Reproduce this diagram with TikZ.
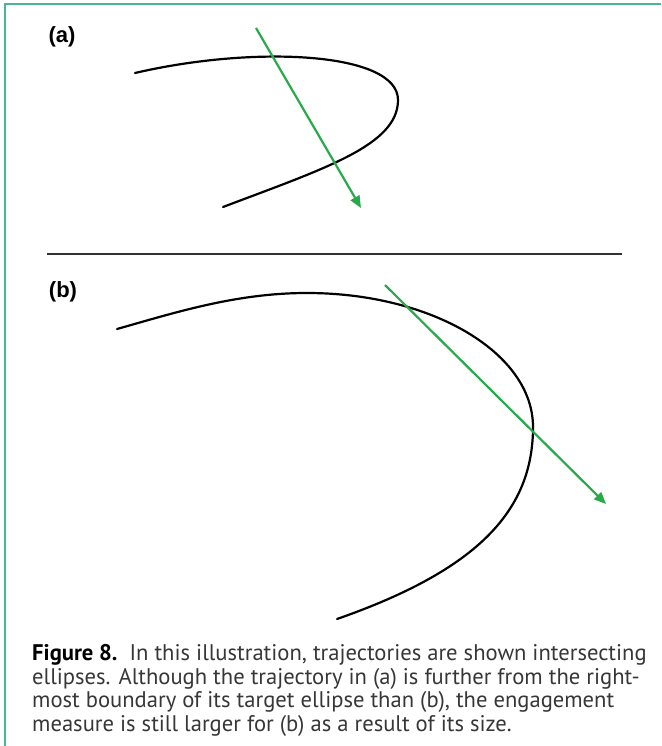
\documentclass[tikz,border=0pt]{standalone}
\usepackage{fontspec}
\setmainfont{PT Sans}
\newfontfamily\labfont{Liberation Sans}
\usetikzlibrary{arrows.meta}
\definecolor{frameteal}{RGB}{72,182,148}
\definecolor{trajgreen}{RGB}{40,170,75}
\definecolor{captext}{RGB}{55,55,55}
\definecolor{sepgrey}{RGB}{50,50,50}
\begin{document}
\begin{tikzpicture}[x=1pt,y=-1pt,
  frame/.style={draw=frameteal,line width=1.8pt},
  ellipsecurve/.style={draw=black,line width=2.2pt,line cap=round},
  traj/.style={draw=trajgreen,line width=2.2pt,-{Triangle[length=12pt,width=10pt]}},
  seprule/.style={draw=sepgrey,line width=2.6pt},
  panellabel/.style={inner sep=0pt,font=\labfont\bfseries\fontsize{22}{24}\selectfont,text=black},
  captionbox/.style={inner sep=0pt,align=left,anchor=base west,text=captext,font=\fontsize{22.6}{23.4}\selectfont}]
\useasboundingbox (0,0) rectangle (661,746);
\fill[white] (0,0) rectangle (661,746);
% frame
\coordinate (fbl) at (4.7,746);
\coordinate (ftl) at (4.7,4);
\coordinate (ftr) at (661,4);
\draw[frame] (fbl) -- (ftl) -- (ftr);
% panel (a)
\node[panellabel] (la) at (62,37) {(a)};
\draw[ellipsecurve] (135,73) .. controls (255,45) and (398,52) .. (398,100)
  .. controls (398,145) and (326,168) .. (223,207);
\coordinate (ga1) at (256,28);
\coordinate (ga2) at (361,208);
\draw[traj] (ga1) -- (ga2);
% separator
\coordinate (s1) at (47,254);
\coordinate (s2) at (622,254);
\draw[seprule] (s1) -- (s2);
% panel (b)
\node[panellabel] (lb) at (63,292) {(b)};
\draw[ellipsecurve] (117,329) .. controls (177,312) and (237,293) .. (307,293)
  .. controls (432,293) and (533,353) .. (533,427)
  .. controls (533,510) and (478.75,569.5) .. (337,619);
\coordinate (gb1) at (385,285);
\coordinate (gb2) at (606,504);
\draw[traj] (gb1) -- (gb2);
% caption (anchor at baseline of last line)
\node[captionbox] (cap) at (32,731) {{\bfseries\color{black}Figure 8.}\ \ In this illustration, trajectories are shown intersecting\\
ellipses. Although the trajectory in (a) is further from the right-\\
most boundary of its target ellipse than (b), the engagement\\
measure is still larger for (b) as a result of its size.};
\end{tikzpicture}
\end{document}
